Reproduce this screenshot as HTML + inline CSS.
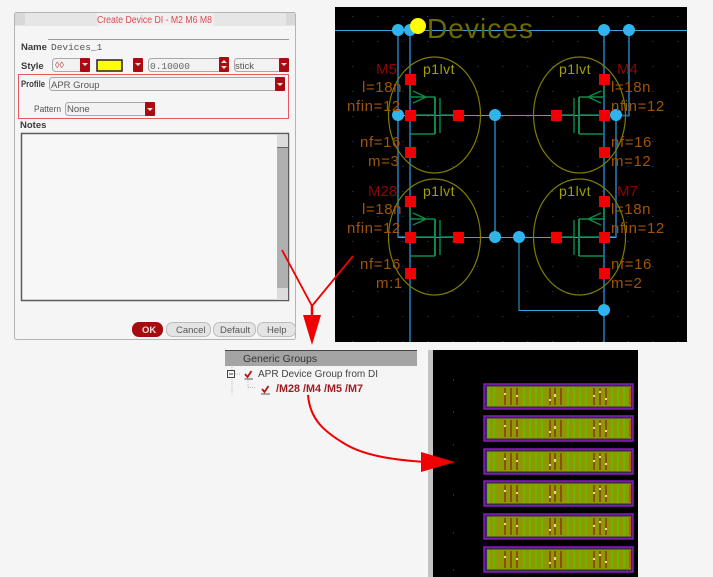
<!DOCTYPE html>
<html><head><meta charset="utf-8"><style>
html,body{margin:0;padding:0;background:#f5f5f5;overflow:hidden}
svg{display:block;filter:blur(.3px)}
text{font-family:"Liberation Sans",sans-serif}
.o{fill:#a05406;font-size:15px;letter-spacing:.6px}
.r{fill:#8c0505;font-size:15px}
.p{fill:#a0a000;font-size:14px;letter-spacing:.5px}
.l{fill:#3a3a3a;font-size:9.5px;font-weight:bold}
.v{fill:#555;font-size:9.5px}
.w{stroke:#1f6a9c;stroke-width:1.8;fill:none}
.h{stroke:#3aa6dc;stroke-width:1;fill:none}
.g{stroke:#0c8a48;stroke-width:1.4;fill:none}
.d{fill:#2fb4ee}
.s{fill:#f00000}
.e{fill:none;stroke:#7f7d00;stroke-width:1.2}
.c{fill:#f2f2f2;stroke:#a8a8a8;stroke-width:1}
.a{fill:#a80c10}
</style></head><body>
<svg width="713" height="577" viewBox="0 0 713 577" xmlns="http://www.w3.org/2000/svg">
<defs>
<pattern id="gr" width="25" height="25" patternUnits="userSpaceOnUse" x="340" y="4"><rect x="12" y="12" width="1.5" height="1" fill="#1c2f58"/></pattern>
<g id="row">
<rect x="484" y="1" width="149" height="25" fill="#3a2a50" stroke="#8a18c8" stroke-width="1.5"/>
<rect x="487" y="3.500" width="144" height="20" fill="#8f9800"/>
<path d="M489 4v19M494 4v19M524 4v19M530 4v19M536 4v19M542 4v19M568 4v19M574 4v19M580 4v19M586 4v19M612 4v19M618 4v19M624 4v19" stroke="#55c800" stroke-width="1.300"/>
<path d="M505 5v17M511 5v17M517 5v17M550 5v17M555 5v17M561 5v17M594 5v17M600 5v17M606 5v17" stroke="#8a5010" stroke-width="2"/>
<path d="M505 10v2M517 12v2M550 16v2M555 11v3M594 12v2M600 8v2M606 15v2" stroke="#e8d8a8" stroke-width="2"/>
<path d="M630 5v17" stroke="#c04a00" stroke-width="1.500"/>
</g>
<g id="tr">
<path class="g" d="M410 85V97H435M410 115H435M410 134H435M413 91L426 97L413 103"/>
<path d="M435 97V134" stroke="#0c8a48" stroke-width="2" fill="none"/>
<path class="g" d="M440 98V133M440 115H453"/>
</g>
</defs>

<rect width="713" height="577" fill="#f5f5f5"/>

<!-- dialog -->
<rect x="14.500" y="12.500" width="281" height="327" rx="2" fill="#f5f5f5" stroke="#b4b4b4"/>
<rect x="15" y="13" width="280" height="13" fill="#e6e6e6"/>
<rect x="15" y="13" width="10" height="12" fill="#d8d8d8"/><rect x="286" y="13" width="9" height="12" fill="#d8d8d8"/>
<rect x="97" y="13" width="117" height="13" fill="#f0f0f0"/>
<text x="97" y="23" font-size="10" fill="#d84a55" textLength="115" lengthAdjust="spacingAndGlyphs">Create Device DI - M2 M6 M8</text>

<path d="M48 39.500H289" stroke="#999"/>
<text class="l" x="21" y="50">Name</text>
<text x="51" y="50" font-size="9.500" fill="#555" style="font-family:'Liberation Mono',monospace">Devices_1</text>
<text class="l" x="21" y="69">Style</text>

<rect x="52.500" y="58.500" width="37" height="13" rx="3" class="c"/>
<text x="55" y="68" font-size="9" fill="#c04050">◊◊</text>
<rect x="80" y="58" width="10" height="14" rx="1" class="a"/>
<rect x="97" y="60" width="25" height="11" fill="#ffff00" stroke="#222" stroke-width="1.500"/>
<rect x="133" y="58" width="10" height="14" rx="1" class="a"/>
<rect x="148.500" y="58.500" width="80" height="13" rx="3" class="c"/>
<text x="150" y="69" font-size="9.500" fill="#666" style="font-family:'Liberation Mono',monospace">0.10000</text>
<rect x="219" y="57" width="10" height="15" rx="1" class="a"/>
<rect x="234.500" y="58.500" width="54" height="13" rx="3" class="c"/>
<text class="v" x="235" y="69">stick</text>
<rect x="279" y="58" width="10" height="14" rx="1" class="a"/>
<path d="M82 63h6l-3 3zM135 63h6l-3 3zM281 63h6l-3 3zM221 63l3-3 3 3zM221 66h6l-3 3z" fill="#f0e0e0"/>

<rect x="18.500" y="74.500" width="270" height="44" fill="none" stroke="#e8585c"/>
<text class="l" x="21" y="87" textLength="24" lengthAdjust="spacingAndGlyphs">Profile</text>
<rect x="49.500" y="77.500" width="235" height="13" rx="3" class="c"/>
<text class="v" x="51" y="88">APR Group</text>
<rect x="275" y="77" width="10" height="14" rx="1" class="a"/>
<text class="v" x="34" y="112" textLength="27" lengthAdjust="spacingAndGlyphs">Pattern</text>
<rect x="65.500" y="102.500" width="89" height="13" rx="3" class="c"/>
<text class="v" x="67" y="112">None</text>
<rect x="145" y="102" width="10" height="14" rx="1" class="a"/>
<path d="M277 83h6l-3 3zM147 108h6l-3 3z" fill="#f0e0e0"/>
<text class="l" x="20" y="128">Notes</text>

<rect x="21.500" y="133.500" width="267" height="167" fill="#f7f7f7" stroke="#5c5c5c" stroke-width="1.500"/>
<rect x="277" y="135" width="11" height="13" fill="#dcdcdc"/>
<rect x="277" y="148" width="11" height="140" fill="#b0b0b0"/>
<rect x="277" y="288" width="11" height="12" fill="#dcdcdc"/>
<path d="M277 147.500H288" stroke="#666"/>

<rect x="132" y="322" width="31" height="15" rx="7" fill="#a40c10"/>
<text x="142" y="333" font-size="9.500" font-weight="bold" fill="#f0d8d8">OK</text>
<rect x="166.500" y="322.500" width="44" height="14" rx="6" fill="#e4e4e4" stroke="#bdbdbd"/>
<text x="176" y="333" font-size="9.500" fill="#555">Cancel</text>
<rect x="213.500" y="322.500" width="42" height="14" rx="6" fill="#e4e4e4" stroke="#bdbdbd"/>
<text x="220" y="333" font-size="9.500" fill="#555">Default</text>
<rect x="257.500" y="322.500" width="38" height="14" rx="6" fill="#e4e4e4" stroke="#bdbdbd"/>
<text x="267" y="333" font-size="9.500" fill="#555">Help</text>

<!-- schematic -->
<rect x="335" y="7" width="352" height="335" fill="#000"/>
<rect x="335" y="7" width="352" height="335" fill="url(#gr)"/>
<path class="h" d="M335 30.500H687"/>
<path class="w" d="M398 30V115M398 115V237H410M410 30V342M604 30V342M629 30V115.500H616M616 115V237H604M495 115V237"/>
<path class="h" d="M398 115.500H616M398 237.500H616M519 237V310.500H604"/>

<use href="#tr"/><use href="#tr" y="122"/>
<use href="#tr" transform="matrix(-1 0 0 1 1014 0)"/><use href="#tr" transform="matrix(-1 0 0 1 1014 122)"/>

<ellipse class="e" cx="434.500" cy="115" rx="46" ry="58"/>
<ellipse class="e" cx="579.500" cy="115" rx="46" ry="58"/>
<ellipse class="e" cx="434.500" cy="237" rx="46" ry="58"/>
<ellipse class="e" cx="579.500" cy="237" rx="46" ry="58"/>

<g class="s">
<rect x="405" y="74" width="11" height="11"/><rect x="405" y="110" width="11" height="11"/><rect x="453" y="110" width="11" height="11"/><rect x="405" y="147" width="11" height="11"/>
<rect x="599" y="74" width="11" height="11"/><rect x="599" y="110" width="11" height="11"/><rect x="551" y="110" width="11" height="11"/><rect x="599" y="147" width="11" height="11"/>
<rect x="405" y="196" width="11" height="11"/><rect x="405" y="232" width="11" height="11"/><rect x="453" y="232" width="11" height="11"/><rect x="405" y="268" width="11" height="11"/>
<rect x="599" y="196" width="11" height="11"/><rect x="599" y="232" width="11" height="11"/><rect x="551" y="232" width="11" height="11"/><rect x="599" y="268" width="11" height="11"/>
</g>

<g class="d">
<circle cx="398" cy="30" r="6"/><circle cx="410" cy="30" r="6"/><circle cx="604" cy="30" r="6"/><circle cx="629" cy="30" r="6"/>
<circle cx="398" cy="115" r="6"/><circle cx="495" cy="115" r="6"/><circle cx="616" cy="115" r="6"/>
<circle cx="495" cy="237" r="6"/><circle cx="519" cy="237" r="6"/><circle cx="604" cy="310" r="6"/>
</g>
<circle cx="418" cy="26" r="8" fill="#ffff00"/>
<text x="427" y="38" font-size="28" fill="#6c6a00" textLength="106" lengthAdjust="spacing">Devices</text>

<text class="p" x="423" y="74">p1lvt</text><text class="p" x="559" y="74">p1lvt</text>
<text class="p" x="423" y="196">p1lvt</text><text class="p" x="559" y="196">p1lvt</text>

<text class="r" x="376" y="74">M5</text><text class="r" x="617" y="74">M4</text>
<text class="r" x="368" y="196">M28</text><text class="r" x="617" y="196">M7</text>

<text class="o" x="362" y="92">l=18n</text><text class="o" x="347" y="111">nfin=12</text><text class="o" x="360" y="147">nf=16</text><text class="o" x="368" y="166">m=3</text>
<text class="o" x="611" y="92">l=18n</text><text class="o" x="611" y="111">nfin=12</text><text class="o" x="611" y="147">nf=16</text><text class="o" x="611" y="166">m=12</text>
<text class="o" x="362" y="214">l=18n</text><text class="o" x="347" y="233">nfin=12</text><text class="o" x="360" y="269">nf=16</text><text class="o" x="376" y="288">m:1</text>
<text class="o" x="611" y="214">l=18n</text><text class="o" x="611" y="233">nfin=12</text><text class="o" x="611" y="269">nf=16</text><text class="o" x="611" y="288">m=2</text>

<!-- tree -->
<rect x="225" y="350" width="192" height="16" fill="#a4a4a4"/>
<path d="M225 350.500H417" stroke="#444"/>
<text x="243" y="362" font-size="10.500" fill="#333">Generic Groups</text>
<path d="M232 367V395M235 374h5M248 380v7M248 387.500h8" stroke="#bbb" stroke-dasharray="1 1" fill="none"/>
<rect x="227.500" y="370.500" width="7" height="7" fill="#f5f5f5" stroke="#444"/>
<path d="M229 374h4" stroke="#444"/>
<path d="M244.500 379H253" stroke="#555"/>
<path d="M245 374l2.500 3 4-6" stroke="#c01018" stroke-width="1.800" fill="none"/>
<text x="258" y="377" font-size="10" fill="#444">APR Device Group from DI</text>
<path d="M261 394H270" stroke="#555"/>
<path d="M262 389l2.500 3 4-6" stroke="#c01018" stroke-width="1.800" fill="none"/>
<text x="276" y="392" font-size="10.800" font-weight="bold" fill="#a01c24">/M28 /M4 /M5 /M7</text>

<!-- layout -->
<rect x="428" y="350" width="5" height="227" fill="#c4c4c4"/>
<rect x="433" y="350" width="205" height="227" fill="#000"/>
<use href="#row" y="383"/><use href="#row" y="415"/><use href="#row" y="448"/>
<use href="#row" y="480"/><use href="#row" y="513"/><use href="#row" y="546"/>
<path d="M453 380h1M453 412h1M453 445h1M453 495h1M453 533h1M453 570h1" stroke="#2a3a66" stroke-width="1.500"/>

<!-- arrows -->
<path d="M282 250L312 306L353 256" stroke="#f00000" stroke-width="1.800" fill="none"/>
<path d="M312 306V316" stroke="#f00000" stroke-width="2.500"/>
<path d="M303 315H321L312 345Z" fill="#f00000"/>
<path d="M308 395C310 420 325 432 345 444C365 456 395 460 425 462" stroke="#f00000" stroke-width="2" fill="none"/>
<path d="M421 452L421 472L455 462Z" fill="#f00000"/>
</svg>
</body></html>
